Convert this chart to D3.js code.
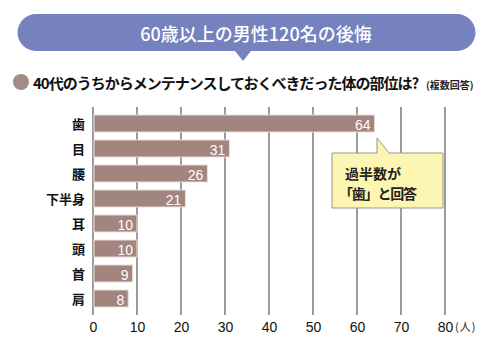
<!DOCTYPE html>
<html><head><meta charset="utf-8">
<script src="https://cdn.jsdelivr.net/npm/d3@7"></script>
<style>body{margin:0;background:#fff}svg{display:block}</style>
</head><body>
<svg id="c" width="496" height="347"></svg>
<script>
const categories = ["歯","目","腰","下半身","耳","頭","首","肩"];
const values = [64,31,26,21,10,10,9,8];
const xTicks = [0,10,20,30,40,50,60,70,80];
const title = "60歳以上の男性120名の後悔";
const question = "40代のうちからメンテナンスしておくべきだった体の部位は?";
const note = "(複数回答)";
const unit = "(人)";
const calloutLines = ["過半数が","「歯」と回答"];

const svg = d3.select("#c");
const jp = "'Noto Sans CJK JP','Noto Sans',sans-serif";
const narrow = "'Liberation Sans Narrow','Arial Narrow','Liberation Sans',sans-serif";

// title pill
svg.append("path")
  .attr("d","M36,14 H457 A18.5,18.5 0 0 1 457,51 H251 L243,61 L235,51 H36 A18.5,18.5 0 0 1 36,14 Z")
  .attr("fill","#7582bd");
svg.append("text").attr("x",256).attr("y",33).attr("text-anchor","middle")
  .attr("dominant-baseline","central").attr("fill","#fff")
  .attr("font-family",jp).attr("font-size",18).attr("font-weight",500).text(title);

// question
svg.append("circle").attr("cx",21).attr("cy",82).attr("r",8).attr("fill","#a48c86");
svg.append("text").attr("x",33).attr("y",82).attr("dominant-baseline","central")
  .attr("font-family",jp).attr("font-size",15).attr("font-weight",700).attr("fill","#111")
  .attr("letter-spacing",-1).text(question);
svg.append("text").attr("x",426).attr("y",84).attr("dominant-baseline","central")
  .attr("font-family",jp).attr("font-size",10).attr("font-weight",700).attr("fill","#222")
  .text(note);

const x = d3.scaleLinear().domain([0,80]).range([93,445]);
const y = d3.scaleBand().domain(categories).range([111,311]).paddingInner(0.32).paddingOuter(0.16);

// gridlines
svg.append("g").selectAll("line").data(xTicks).join("line")
  .attr("x1",d=>x(d)).attr("x2",d=>x(d)).attr("y1",107).attr("y2",315)
  .attr("stroke","#4a4a4a").attr("stroke-width",1.1);

// bars
const data = categories.map((c,i)=>({c,v:values[i]}));
svg.append("g").selectAll("rect").data(data).join("rect")
  .attr("x",x(0)+1).attr("y",d=>y(d.c)).attr("width",d=>x(d.v)-x(0)-1).attr("height",y.bandwidth())
  .attr("fill","#a2857f").attr("stroke","#e9dedb").attr("stroke-width",1);

svg.append("g").selectAll("text").data(data).join("text")
  .attr("x",d=>x(d.v)-4).attr("y",d=>y(d.c)+y.bandwidth()/2+1).attr("text-anchor","end")
  .attr("dominant-baseline","central").attr("fill","#fff")
  .attr("font-family",narrow).attr("font-size",14).text(d=>d.v);

// category labels
svg.append("g").selectAll("text").data(data).join("text")
  .attr("x",85).attr("y",d=>y(d.c)+y.bandwidth()/2).attr("text-anchor","end")
  .attr("dominant-baseline","central").attr("fill","#111")
  .attr("font-family",jp).attr("font-size",13).attr("font-weight",700).text(d=>d.c);

// x axis labels
const xa = svg.append("g").attr("transform","translate(0,327)")
  .call(d3.axisBottom(x).tickValues(xTicks).tickSize(0).tickPadding(0));
xa.select(".domain").remove();
xa.selectAll("text").attr("font-family",narrow).attr("font-size",14).attr("fill","#111")
  .attr("dy",null).attr("dominant-baseline","central");
svg.append("text").attr("x",455).attr("y",326).attr("text-anchor","start")
  .attr("dominant-baseline","central").attr("font-family",jp).attr("font-size",11).attr("fill","#222")
  .attr("letter-spacing",1).text(unit);

// callout
svg.append("path")
  .attr("d","M332,153 H377 L377,138 L389,153 H443 V208 H332 Z")
  .attr("fill","#fdf6b2").attr("stroke","#9a9680").attr("stroke-width",1);
svg.append("g").selectAll("text").data(calloutLines).join("text")
  .attr("x",(d,i)=>i===0?345:339).attr("y",(d,i)=>173+i*20).attr("dominant-baseline","central")
  .attr("font-family",jp).attr("font-size",14).attr("font-weight",700).attr("fill","#222")
  .attr("textLength",(d,i)=>i===0?56:78).attr("lengthAdjust","spacing")
  .text(d=>d);
</script>
</body></html>
